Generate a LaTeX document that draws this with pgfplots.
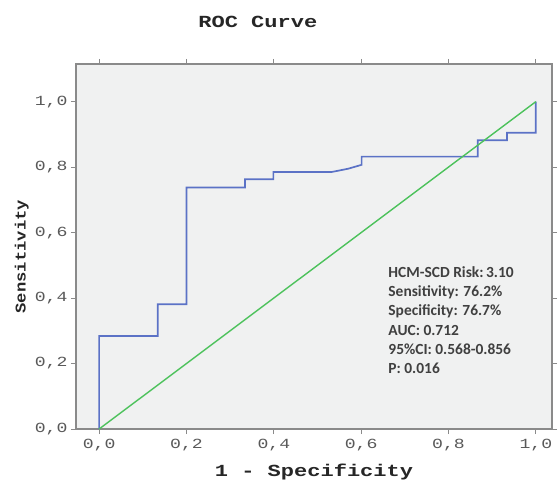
\documentclass[border=0pt]{standalone}
\usepackage{fontspec}
\setmainfont{Liberation Sans}
\newfontfamily\ticksfont[FakeStretch=1.3]{Liberation Mono}
\newfontfamily\labfont[FakeStretch=1.3]{Liberation Mono Bold}
\newfontfamily\ylabfont[FakeStretch=1.15]{Liberation Mono Bold}
\newfontfamily\notefont{Carlito}
\usepackage{pgfplots}
\pgfplotsset{compat=1.18}
\definecolor{rocblue}{HTML}{5B72C6}
\definecolor{rocgreen}{HTML}{4DC25C}
\definecolor{panel}{HTML}{F0F1F1}
\definecolor{framegray}{HTML}{8A8A8A}

\begin{document}
\begin{tikzpicture}
\begin{axis}[
    scale only axis,
    width=476bp,
    height=365bp,
    xmin=-0.053, xmax=1.037,
    ymin=0, ymax=1.115,
    xtick={0,0.2,0.4,0.6,0.8,1.0},
    ytick={0,0.2,0.4,0.6,0.8,1.0},
    tick align=outside,
    major tick length=5bp,
    tick style={framegray, line width=1bp},
    axis line style={framegray, line width=1.2bp},
    axis background/.style={fill=panel},
    xticklabel style={font=\fontsize{14}{14}\ticksfont, text=black!65, yshift=-2bp},
    yticklabel style={font=\fontsize{14}{14}\ticksfont, text=black!65},
    /pgf/number format/.cd, fixed, fixed zerofill, precision=1, use comma,
    assume math mode=true,
    /pgfplots/.cd,
    title={ROC Curve},
    title style={font=\fontsize{17}{17}\labfont, text=black!85, at={(0.382,1.10)}, anchor=center},
    xlabel={1 - Specificity},
    xlabel style={font=\fontsize{17}{17}\labfont, text=black!85, at={(0.5,-0.118)}, anchor=center},
    ylabel={Sensitivity},
    ylabel style={font=\fontsize{15}{15}\ylabfont, text=black!85, at={(-0.114,0.472)}, anchor=center},
]
\addplot[rocblue, line width=1.7bp] coordinates {
    (0,0) (0,0.284) (0.134,0.284) (0.134,0.381) (0.200,0.381) (0.200,0.738)
    (0.334,0.738) (0.334,0.763) (0.399,0.763) (0.399,0.785) (0.532,0.785)
    (0.570,0.795) (0.601,0.807) (0.601,0.832) (0.867,0.832) (0.867,0.882)
    (0.934,0.882) (0.934,0.905) (1.0,0.905) (1.0,1.0)
};
\addplot[rocgreen, line width=1.4bp] coordinates {(0,0) (1,1)};
\node[anchor=north west, align=left, font=\fontsize{15.5}{19.3}\notefont\bfseries, text=black!75, inner sep=0pt]
    at (axis cs:0.662,0.497) {HCM-SCD Risk:\,3.10\\Sensitivity: 76.2\%\\Specificity: 76.7\%\\AUC: 0.712\\95\%CI: 0.568-0.856\\P: 0.016};
\end{axis}
\pgfresetboundingbox
\useasboundingbox ([shift={(-76bp,-53bp)}]current axis.south west) rectangle ([shift={(6bp,64bp)}]current axis.north east);
\end{tikzpicture}
\end{document}
